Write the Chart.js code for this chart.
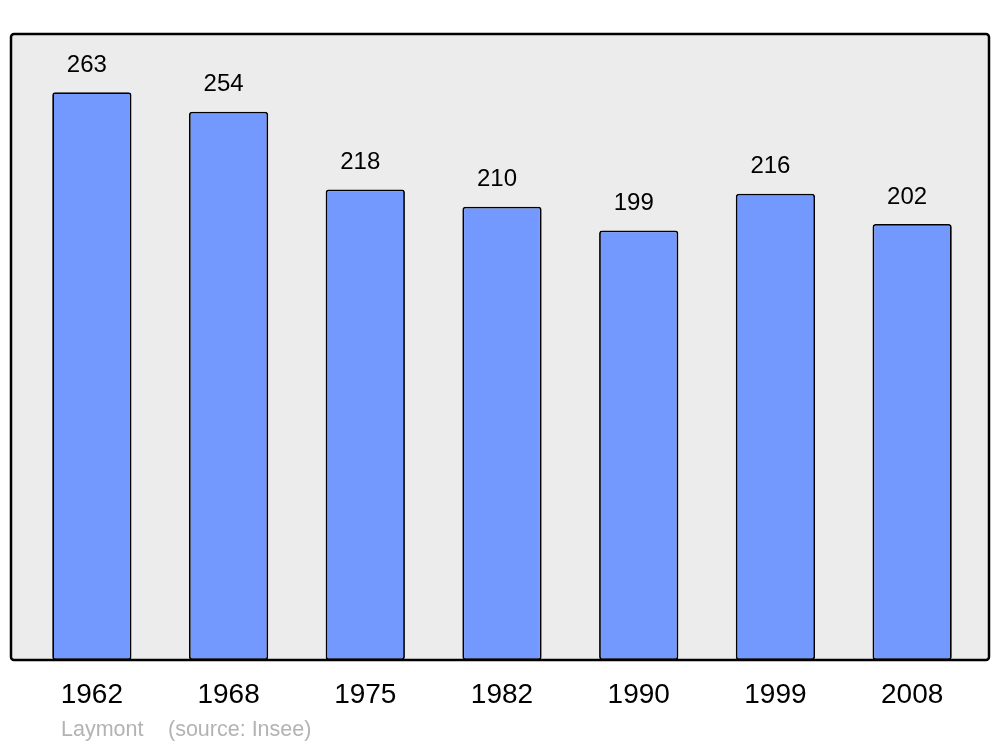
<!DOCTYPE html>
<html>
<head>
<meta charset="utf-8">
<script src="https://cdn.jsdelivr.net/npm/chart.js@4"></script>
<style>
  html, body { margin: 0; padding: 0; background: #fff; }
  #wrap { width: 1000px; height: 747px; }
</style>
</head>
<body>
<div id="wrap"><canvas id="chart" width="1000" height="747"></canvas></div>
<script>
// population by census year
const years = ['1962', '1968', '1975', '1982', '1990', '1999', '2008'];
const population = [263, 254, 218, 210, 199, 216, 202];
const footerName = 'Laymont';
const footerSource = '(source: Insee)';

// grey framed background behind the bars
const framePlugin = {
  id: 'frame',
  beforeDraw(chart) {
    const { ctx, chartArea } = chart;
    const x = chartArea.left - 12.5, y = chartArea.top;
    const w = chartArea.right + 8.5 - x, h = chartArea.bottom - y;
    ctx.save();
    ctx.beginPath();
    ctx.roundRect(x, y, w, h, 3);
    ctx.fillStyle = '#ececec';
    ctx.fill();
    ctx.restore();
  },
  afterDatasetsDraw(chart) {
    const { ctx, chartArea } = chart;
    const x = chartArea.left - 12.5, y = chartArea.top;
    const w = chartArea.right + 8.5 - x, h = chartArea.bottom - y;
    ctx.save();
    // value labels
    ctx.font = '24px "Liberation Sans", Arial, sans-serif';
    ctx.fillStyle = '#000';
    ctx.textAlign = 'center';
    ctx.textBaseline = 'middle';
    chart.getDatasetMeta(0).data.forEach((bar, i) => {
      ctx.fillText(population[i], bar.x - 5, bar.y - 27);
    });
    // frame
    ctx.beginPath();
    ctx.roundRect(x, y, w, h, 3);
    ctx.lineWidth = 2.5;
    ctx.strokeStyle = '#000';
    ctx.stroke();
    // footer
    ctx.font = '21.5px "Liberation Sans", Arial, sans-serif';
    ctx.fillStyle = '#b3b3b3';
    ctx.textAlign = 'left';
    ctx.fillText(footerName, 61, 730);
    ctx.fillText(footerSource, 168, 730);
    ctx.restore();
  }
};

new Chart(document.getElementById('chart'), {
  type: 'bar',
  data: {
    labels: years,
    datasets: [{
      data: population,
      backgroundColor: '#7399ff',
      borderColor: '#000',
      borderWidth: 1.8,
      borderRadius: 3,
      borderSkipped: false,
      barPercentage: 0.58,
      categoryPercentage: 1
    }]
  },
  options: {
    responsive: false,
    animation: false,
    layout: { padding: { left: 23.5, right: 19.5, top: 34, bottom: 17.4 } },
    plugins: { legend: { display: false }, tooltip: { enabled: false } },
    scales: {
      x: {
        grid: { display: false, drawTicks: false },
        border: { display: false },
        ticks: {
          color: '#000',
          padding: 18,
          font: { family: '"Liberation Sans", Arial, sans-serif', size: 28 }
        }
      },
      y: { display: false, min: 0, max: 290 }
    }
  },
  plugins: [framePlugin]
});
</script>
</body>
</html>
